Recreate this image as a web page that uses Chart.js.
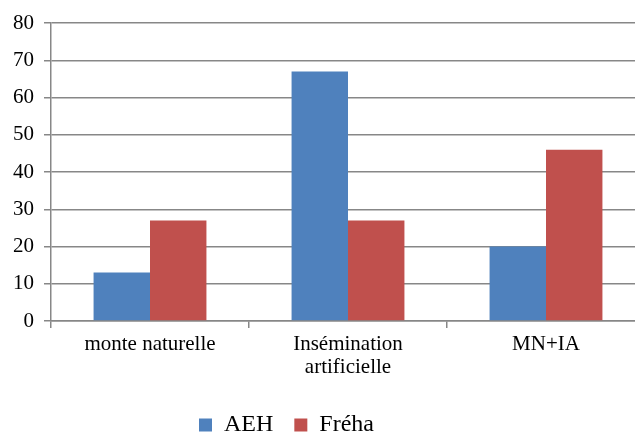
<!DOCTYPE html>
<html>
<head>
<meta charset="utf-8">
<script src="https://cdn.jsdelivr.net/npm/chart.js@4"></script>
<style>
  html, body { margin: 0; padding: 0; background: #ffffff; overflow: hidden; font-family: 'Liberation Serif', serif; }
  #wrap { width: 645px; height: 434px; }
  #note { position: fixed; left: 60px; top: 0; font: 12px 'Liberation Serif'; margin: 0; }
</style>
</head>
<body>
<div id="wrap"><canvas id="chart" width="645" height="434"></canvas></div>
<pre id="note"></pre>
<script>
// Mode de reproduction par race
const categories = ['monte naturelle', ['Insémination', 'artificielle'], 'MN+IA'];
const seriesNames = ['AEH', 'Fréha'];
const aehValues = [13, 67, 20];
const frehaValues = [27, 27, 46];
const yMin = 0;
const yMax = 80;
const yStep = 10;

const AXIS_GREY = '#878787';
const SERIF = 'Liberation Serif';

Chart.defaults.font.family = SERIF;
Chart.defaults.color = '#000000';

// Places the legend row below the axis labels, under the plot
const legendPlacement = {
  id: 'legendPlacement',
  afterLayout(chart) {
    const lg = chart.legend;
    if (!lg) return;
    const left = 178, top = 392;
    lg.left = left; lg.right = left + lg.width;
    lg.top = top; lg.bottom = top + lg.height;
  }
};

const chart = new Chart(document.getElementById('chart'), {
  type: 'bar',
  data: {
    labels: categories,
    datasets: [
      { label: seriesNames[0], data: aehValues, backgroundColor: '#4F81BD', borderWidth: 0 },
      { label: seriesNames[1], data: frehaValues, backgroundColor: '#C0504D', borderWidth: 0 }
    ]
  },
  options: {
    responsive: false,
    devicePixelRatio: 1,
    animation: false,
    layout: { padding: { top: 23 } },
    datasets: { bar: { categoryPercentage: 0.57, barPercentage: 1.0 } },
    scales: {
      x: {
        grid: {
          offset: true,
          drawOnChartArea: false,
          drawTicks: true,
          tickLength: 7,
          color: AXIS_GREY,
          lineWidth: 1.5
        },
        border: { display: true, color: AXIS_GREY, width: 1.5 },
        ticks: {
          padding: 5,
          maxRotation: 0,
          autoSkip: false,
          font: { family: SERIF, size: 21, lineHeight: 1.08 }
        },
        afterFit(scale) { scale.height = 58; }
      },
      y: {
        min: yMin,
        max: yMax,
        ticks: {
          stepSize: yStep,
          padding: 10,
          font: { family: SERIF, size: 21 }
        },
        grid: {
          drawTicks: true,
          tickLength: 7,
          color: AXIS_GREY,
          lineWidth: 1.5
        },
        border: { display: true, color: AXIS_GREY, width: 1.5 },
        afterFit(scale) { scale.width = 51; }
      }
    },
    plugins: {
      legend: {
        position: 'bottom',
        align: 'start',
        labels: {
          boxWidth: 13,
          boxHeight: 13,
          padding: 21,
          font: { family: SERIF, size: 24 }
        }
      },
      tooltip: { enabled: false }
    }
  },
  plugins: [legendPlacement]
});
</script>
</body>
</html>
